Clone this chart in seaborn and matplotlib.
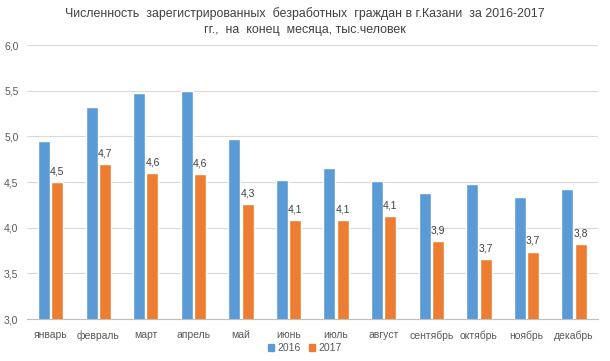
import numpy as np
import pandas as pd
import matplotlib
matplotlib.use('Agg')
import matplotlib.pyplot as plt
import seaborn as sns
from matplotlib.patches import Patch

months = ['январь', 'февраль', 'март', 'апрель', 'май', 'июнь',
          'июль', 'август', 'сентябрь', 'октябрь', 'ноябрь', 'декабрь']
values_2016 = [4.95, 5.32, 5.48, 5.50, 4.97, 4.52, 4.66, 4.51, 4.38, 4.48, 4.34, 4.43]
values_2017 = [4.50, 4.70, 4.60, 4.59, 4.26, 4.08, 4.09, 4.13, 3.85, 3.66, 3.74, 3.82]
years = ['2016', '2017']
colors = ['#5B9BD5', '#ED7D31']

df = pd.DataFrame({
    'month': months * 2,
    'year': ['2016'] * 12 + ['2017'] * 12,
    'value': values_2016 + values_2017,
})

sns.set_style('white')
plt.rcParams['font.family'] = ['Liberation Sans', 'DejaVu Sans']

fig = plt.figure(figsize=(6.1, 3.61), dpi=100)
ax = fig.add_axes([0.044, 0.116, 0.936, 0.759])

sns.barplot(data=df, x='month', y='value', hue='year', palette=colors,
            width=0.56, gap=0.1, ax=ax, legend=False, saturation=1)

ax.set_ylim(3.0, 6.0)
ax.set_yticks(np.arange(3.0, 6.01, 0.5))
ax.set_yticklabels([f'{v:.1f}'.replace('.', ',') for v in np.arange(3.0, 6.01, 0.5)])
ax.grid(axis='y', color='#D9D9D9', linewidth=0.8)
ax.set_axisbelow(True)
for s in ['left', 'right', 'top']:
    ax.spines[s].set_visible(False)
ax.spines['bottom'].set_color('#BFBFBF')
ax.tick_params(axis='both', length=0, labelsize=7.5, colors='#595959')
ax.tick_params(axis='x', pad=8)
ax.tick_params(axis='y', pad=6)
ax.set_xlabel('')
ax.set_ylabel('')
ax.set_xlim(-0.5, 11.5)

ax.bar_label(ax.containers[1],
             labels=[f'{v:.1f}'.replace('.', ',') for v in values_2017],
             padding=4, fontsize=7.5, color='#404040')

fig.text(0.5, 0.963, 'Численность  зарегистрированных  безработных  граждан в г.Казани  за 2016-2017',
         ha='center', va='center', fontsize=8.9, color='#404040')
fig.text(0.5, 0.918, 'гг.,  на  конец  месяца, тыс.человек',
         ha='center', va='center', fontsize=8.9, color='#404040')

handles = [Patch(color=c, label=y) for c, y in zip(colors, years)]
fig.legend(handles=handles, loc='center', bbox_to_anchor=(0.5, 0.035), ncol=2,
           frameon=False, fontsize=7.5, handlelength=0.6, handleheight=0.6,
           handletextpad=0.3, columnspacing=0.8, labelcolor='#595959')

fig.savefig('out.png', dpi=100)
